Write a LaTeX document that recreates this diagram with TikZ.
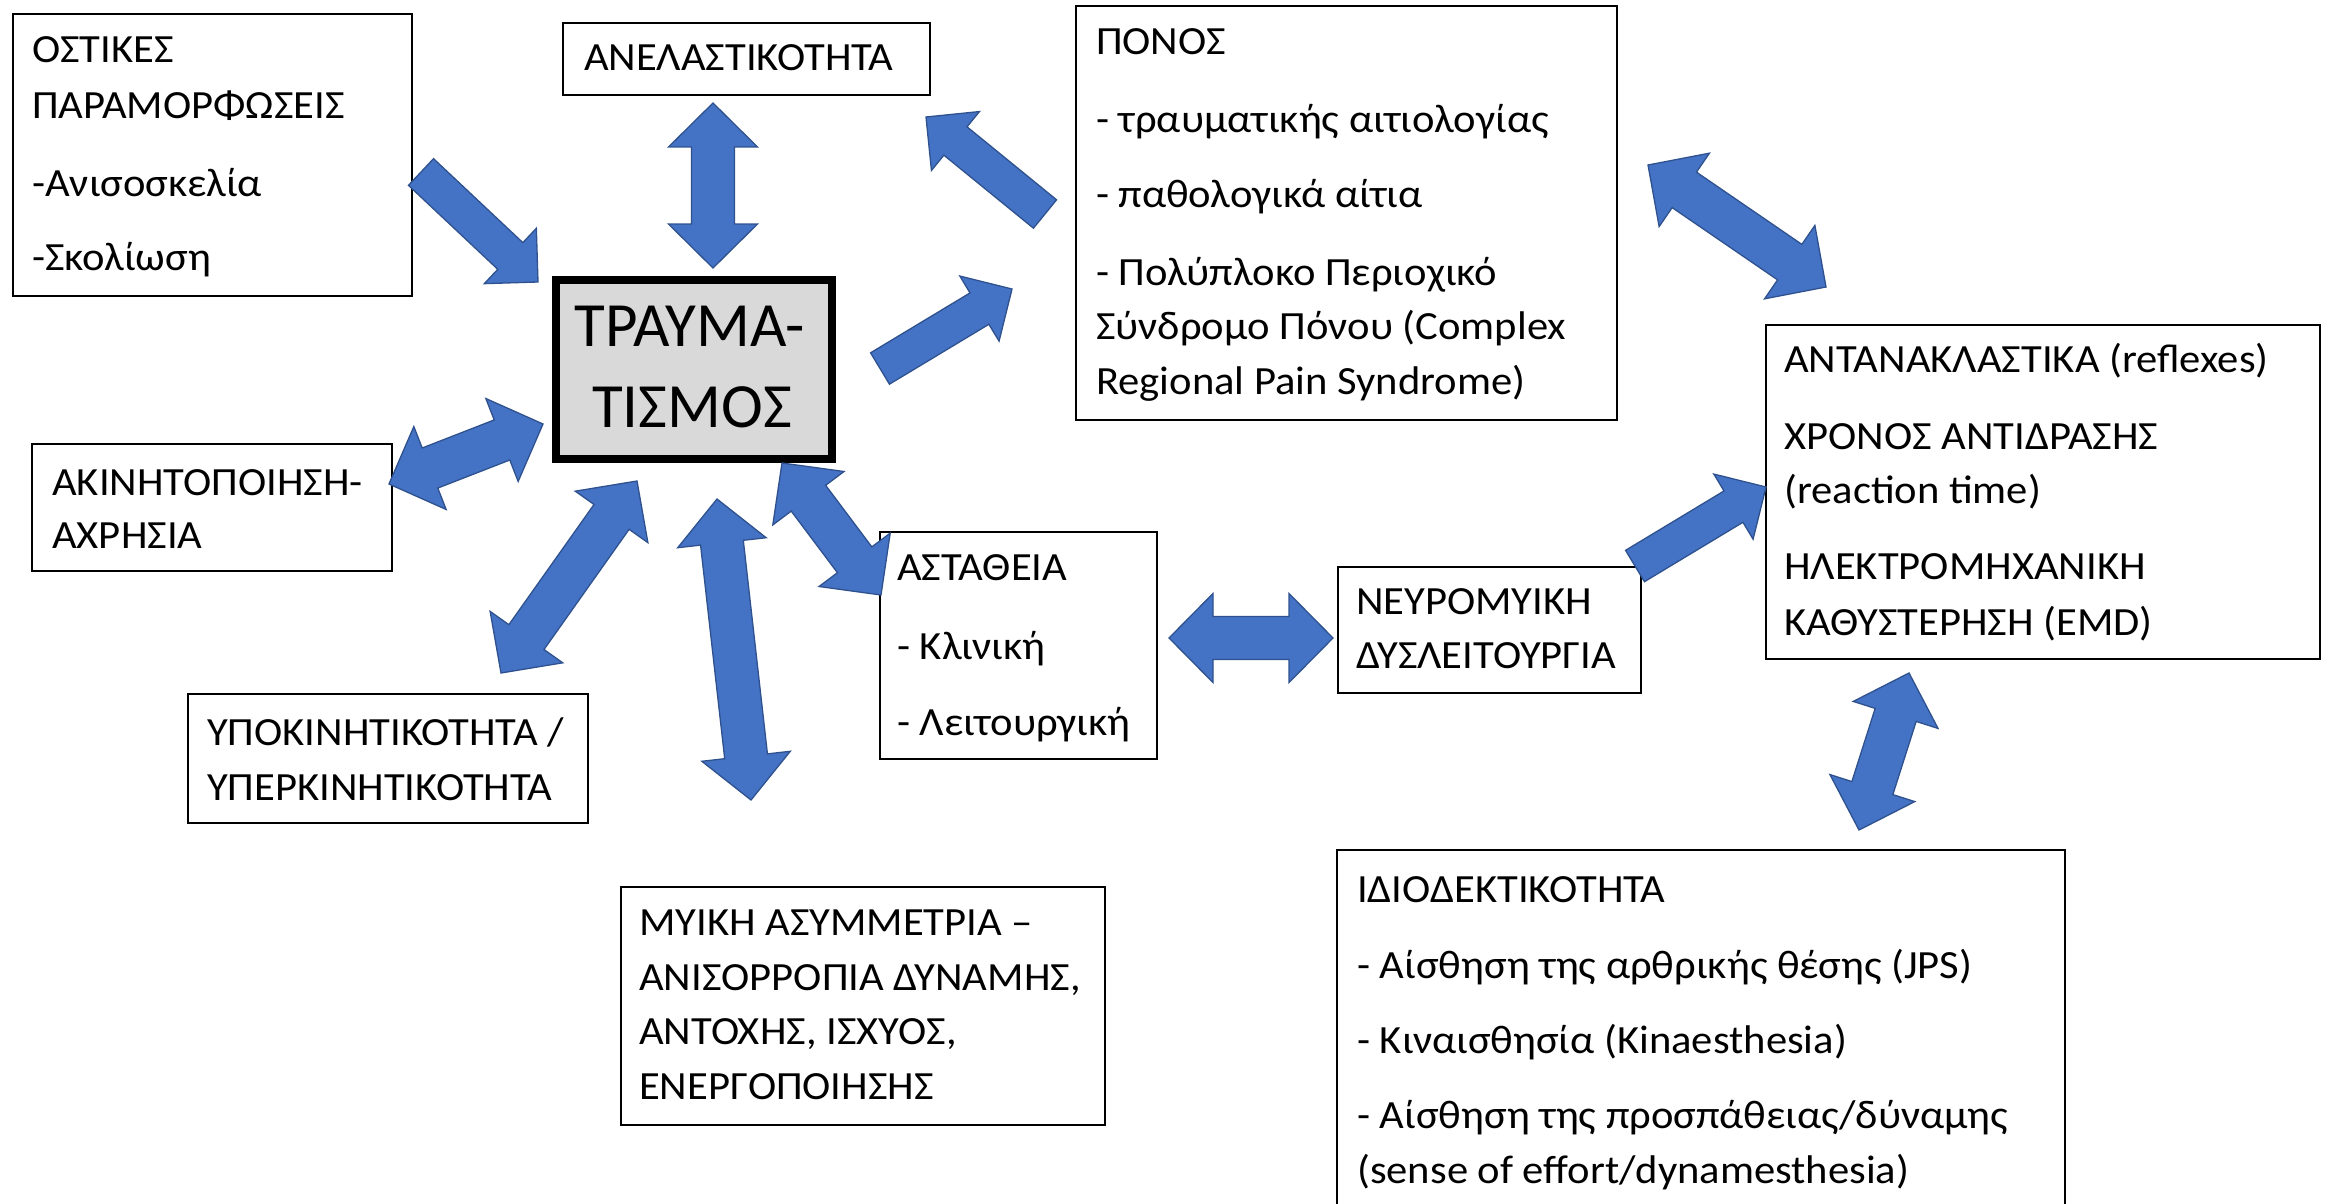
\documentclass[tikz,border=0pt]{standalone}
\usepackage{fontspec}
\setmainfont{Carlito}
\newfontfamily\bodyfont{Carlito}[FakeStretch=1.065]
\usetikzlibrary{calc}
\definecolor{arrfill}{HTML}{4472C4}
\definecolor{arrline}{HTML}{2F528F}
\definecolor{traumafill}{HTML}{D9D9D9}
\tikzset{
  box/.style={draw=black, line width=1.8pt, fill=white, inner sep=0pt, anchor=north west},
  txt/.style={anchor=base west, inner sep=0pt, font=\bodyfont\fontsize{40}{46}\selectfont},
  bigtxt/.style={anchor=base, inner sep=0pt, font=\fontsize{63}{70}\selectfont},
  blockarrow/.style={fill=arrfill, draw=arrline, line width=1.3pt, line join=miter},
}
% single block arrow: tail #1 -> tip #2
\newcommand\sarrow[2]{%
  \path[blockarrow]
    ($(#1)!18.3pt!90:(#2)$) --
    ($(#2)!38pt!(#1)!18.3pt!-90:(#1)$) --
    ($(#2)!38pt!(#1)!38pt!-90:(#1)$) --
    (#2) --
    ($(#2)!38pt!(#1)!38pt!90:(#1)$) --
    ($(#2)!38pt!(#1)!18.3pt!90:(#1)$) --
    ($(#1)!18.3pt!-90:(#2)$) -- cycle;}
% double block arrow between tips #1 and #2
\newcommand\darrow[2]{%
  \path[blockarrow]
    (#1) --
    ($(#1)!44pt!(#2)!44.5pt!90:(#2)$) --
    ($(#1)!44pt!(#2)!21.5pt!90:(#2)$) --
    ($(#2)!44pt!(#1)!21.5pt!-90:(#1)$) --
    ($(#2)!44pt!(#1)!44.5pt!-90:(#1)$) --
    (#2) --
    ($(#2)!44pt!(#1)!44.5pt!90:(#1)$) --
    ($(#2)!44pt!(#1)!21.5pt!90:(#1)$) --
    ($(#1)!44pt!(#2)!21.5pt!-90:(#2)$) --
    ($(#1)!44pt!(#2)!44.5pt!-90:(#2)$) -- cycle;}
\begin{document}
\begin{tikzpicture}[x=1pt, y=-1pt]
\useasboundingbox (0,0) rectangle (2329,1204);
\fill[white] (0,0) rectangle (2329,1204);

% boxes
\node[box, minimum width=399pt, minimum height=282pt] (ostikes) at (12,13) {};
\node[box, minimum width=367pt, minimum height=72pt] (anel) at (562,22) {};
\node[box, draw=black, line width=8pt, fill=traumafill, minimum width=276pt, minimum height=179pt] (trauma) at (552,276) {};
\node[box, minimum width=541pt, minimum height=414pt] (ponos) at (1075,5) {};
\node[box, minimum width=554pt, minimum height=334pt] (antan) at (1765,324) {};
\node[box, minimum width=303pt, minimum height=126pt] (neuro) at (1337,566) {};
\node[box, minimum width=277pt, minimum height=227pt] (astath) at (879,531) {};
\node[box, minimum width=360pt, minimum height=127pt] (akin) at (31,443) {};
\node[box, minimum width=400pt, minimum height=129pt] (ypok) at (187,693) {};
\node[box, minimum width=484pt, minimum height=238pt] (myiki) at (620,886) {};
\node[box, draw=none, minimum width=726pt, minimum height=358pt] (idio) at (1337,850) {};
\draw[black, line width=1.8pt] (idio.south west) -- (idio.north west) -- (idio.north east) -- (idio.south east);

% texts
\node[txt] (t1a) at (32,63) {ΟΣΤΙΚΕΣ};
\node[txt] (t1b) at (32,119) {ΠΑΡΑΜΟΡΦΩΣΕΙΣ};
\node[txt] (t1c) at (32,196) {-Ανισοσκελία};
\node[txt] (t1d) at (32,270) {-Σκολίωση};

\node[txt] (t2a) at (584,71) {ΑΝΕΛΑΣΤΙΚΟΤΗΤΑ};

\node[bigtxt] (t3a) at (690,346) {ΤΡΑΥΜΑ-};
\node[bigtxt] (t3b) at (692,427) {ΤΙΣΜΟΣ};

\node[txt] (t4a) at (1096,55) {ΠΟΝΟΣ};
\node[txt] (t4b) at (1096,132) {- τραυματικής αιτιολογίας};
\node[txt] (t4c) at (1096,207) {- παθολογικά αίτια};
\node[txt] (t4d) at (1096,285) {- Πολύπλοκο Περιοχικό};
\node[txt] (t4e) at (1096,339) {Σύνδρομο Πόνου (Complex};
\node[txt] (t4f) at (1096,394) {Regional Pain Syndrome)};

\node[txt] (t5a) at (1784,372) {ΑΝΤΑΝΑΚΛΑΣΤΙΚΑ (reflexes)};
\node[txt] (t5b) at (1784,449) {ΧΡΟΝΟΣ ΑΝΤΙΔΡΑΣΗΣ};
\node[txt] (t5c) at (1784,503) {(reaction time)};
\node[txt] (t5d) at (1784,579) {ΗΛΕΚΤΡΟΜΗΧΑΝΙΚΗ};
\node[txt] (t5e) at (1784,635) {ΚΑΘΥΣΤΕΡΗΣΗ (EMD)};

\node[txt] (t6a) at (1356,614) {ΝΕΥΡΟΜΥΙΚΗ};
\node[txt] (t6b) at (1356,668) {ΔΥΣΛΕΙΤΟΥΡΓΙΑ};

\node[txt] (t7a) at (897,580) {ΑΣΤΑΘΕΙΑ};
\node[txt] (t7b) at (897,659) {- Κλινική};
\node[txt] (t7c) at (897,735) {- Λειτουργική};

\node[txt] (t8a) at (52,495) {ΑΚΙΝΗΤΟΠΟΙΗΣΗ-};
\node[txt] (t8b) at (52,548) {ΑΧΡΗΣΙΑ};

\node[txt] (t9a) at (207,745) {ΥΠΟΚΙΝΗΤΙΚΟΤΗΤΑ /};
\node[txt] (t9b) at (207,800) {ΥΠΕΡΚΙΝΗΤΙΚΟΤΗΤΑ};

\node[txt] (t10a) at (639,935) {ΜΥΙΚΗ ΑΣΥΜΜΕΤΡΙΑ –};
\node[txt] (t10b) at (639,990) {ΑΝΙΣΟΡΡΟΠΙΑ ΔΥΝΑΜΗΣ,};
\node[txt] (t10c) at (639,1044) {ΑΝΤΟΧΗΣ, ΙΣΧΥΟΣ,};
\node[txt] (t10d) at (639,1099) {ΕΝΕΡΓΟΠΟΙΗΣΗΣ};

\node[txt] (t11a) at (1357,902) {ΙΔΙΟΔΕΚΤΙΚΟΤΗΤΑ};
\node[txt] (t11b) at (1357,978) {- Αίσθηση της αρθρικής θέσης (JPS)};
\node[txt] (t11c) at (1357,1053) {- Κιναισθησία (Kinaesthesia)};
\node[txt] (t11d) at (1357,1128) {- Αίσθηση της προσπάθειας/δύναμης};
\node[txt] (t11e) at (1357,1183) {(sense of effort/dynamesthesia)};

% arrow end coordinates
\coordinate (a1s) at (421,172);   \coordinate (a1e) at (538,282);
\coordinate (a2s) at (713,103);   \coordinate (a2e) at (713,268);
\coordinate (a3s) at (1045,214);  \coordinate (a3e) at (926,117);
\coordinate (a4s) at (880,368.5); \coordinate (a4e) at (1012,289);
\coordinate (a5s) at (389,484);   \coordinate (a5e) at (543,424);
\coordinate (a6s) at (637,481);   \coordinate (a6e) at (501,673);
\coordinate (a7s) at (717,499);   \coordinate (a7e) at (751,800);
\coordinate (a8s) at (782,463);   \coordinate (a8e) at (881,595);
\coordinate (a9s) at (1169,638);  \coordinate (a9e) at (1333,638);
\coordinate (a10s) at (1635,566); \coordinate (a10e) at (1766,487);
\coordinate (a11s) at (1648,165); \coordinate (a11e) at (1826,287);
\coordinate (a12s) at (1909,673); \coordinate (a12e) at (1859,830);

% arrows
\sarrow{a1s}{a1e}
\darrow{a2s}{a2e}
\sarrow{a3s}{a3e}
\sarrow{a4s}{a4e}
\darrow{a5s}{a5e}
\darrow{a6s}{a6e}
\darrow{a7s}{a7e}
\darrow{a8s}{a8e}
\darrow{a9s}{a9e}
\sarrow{a10s}{a10e}
\darrow{a11s}{a11e}
\darrow{a12s}{a12e}
\end{tikzpicture}
\end{document}
